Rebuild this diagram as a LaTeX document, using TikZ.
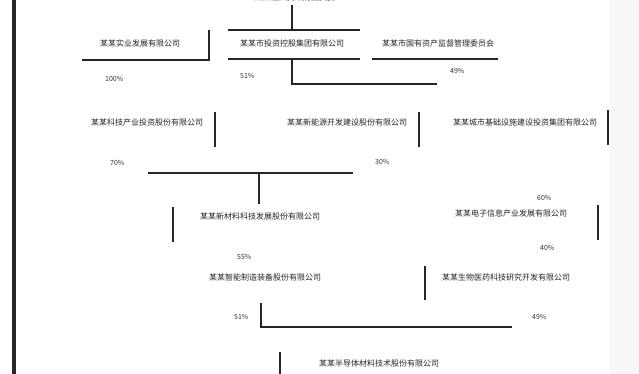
\documentclass[tikz,border=0pt]{standalone}
\usepackage{fontspec}
\newfontfamily\cjk{Noto Sans CJK SC}
\begin{document}
\begin{tikzpicture}[x=1pt,y=-1pt,
  ln/.style={line width=1.3pt,black!85},
  lbl/.style={font=\cjk\fontsize{8}{9}\selectfont, inner sep=0pt, anchor=west, text=black!85},
  pct/.style={font=\cjk\fontsize{7}{8}\selectfont, inner sep=0pt, anchor=west, text=black!80}]
\useasboundingbox (0,0) rectangle (639,374);
\fill[white] (0,0) rectangle (639,374);
\fill[black!3] (610,0) rectangle (639,374);
\fill[black!85] (12,0) rectangle (16,374);

% texts
\node[lbl] (top) at (255,-3) {某某省人民政府国资委};
\node[lbl] (n1l) at (100,43) {某某实业发展有限公司};
\node[lbl] (n1c) at (240,43) {某某市投资控股集团有限公司};
\node[lbl] (n1r) at (382,43) {某某市国有资产监督管理委员会};
\node[pct] (p1l) at (105,79) {100\%};
\node[pct] (p1c) at (240,76) {51\%};
\node[pct] (p1r) at (450,71) {49\%};

\node[lbl] (n2l) at (91,122) {某某科技产业投资股份有限公司};
\node[lbl] (n2c) at (287,122) {某某新能源开发建设股份有限公司};
\node[lbl] (n2r) at (453,122) {某某城市基础设施建设投资集团有限公司};
\node[pct] (p2l) at (110,163) {70\%};
\node[pct] (p2c) at (375,162) {30\%};

\node[lbl] (n3l) at (200,216) {某某新材料科技发展股份有限公司};
\node[lbl] (n3r) at (455,213) {某某电子信息产业发展有限公司};
\node[pct] (p3a) at (537,198) {60\%};
\node[pct] (p3b) at (540,248) {40\%};
\node[pct] (p3c) at (237,257) {55\%};

\node[lbl] (n4l) at (209,277) {某某智能制造装备股份有限公司};
\node[lbl] (n4r) at (442,277) {某某生物医药科技研究开发有限公司};
\node[pct] (p4l) at (234,317) {51\%};
\node[pct] (p4r) at (532,317) {49\%};

\node[lbl] (n5) at (319,363) {某某半导体材料技术股份有限公司};

% lines
\draw[ln] (292,5) -- (292,30);
\draw[ln] (228,30) -- (360,30);
\draw[ln] (228,59) -- (360,59);
\draw[ln] (209,30) -- (209,60) -- (82,60);
\draw[ln] (372,59) -- (498,59);
\draw[ln] (292,60) -- (292,84) -- (437,84);

\draw[ln] (215,112) -- (215,147);
\draw[ln] (419,112) -- (419,147);
\draw[ln] (608,110) -- (608,145);
\draw[ln] (148,173) -- (353,173);
\draw[ln] (259,173) -- (259,204);

\draw[ln] (173,207) -- (173,242);
\draw[ln] (598,205) -- (598,240);
\draw[ln] (425,266) -- (425,300);
\draw[ln] (261,303) -- (261,327) -- (512,327);
\draw[ln] (280,352) -- (280,374);
\end{tikzpicture}
\end{document}
